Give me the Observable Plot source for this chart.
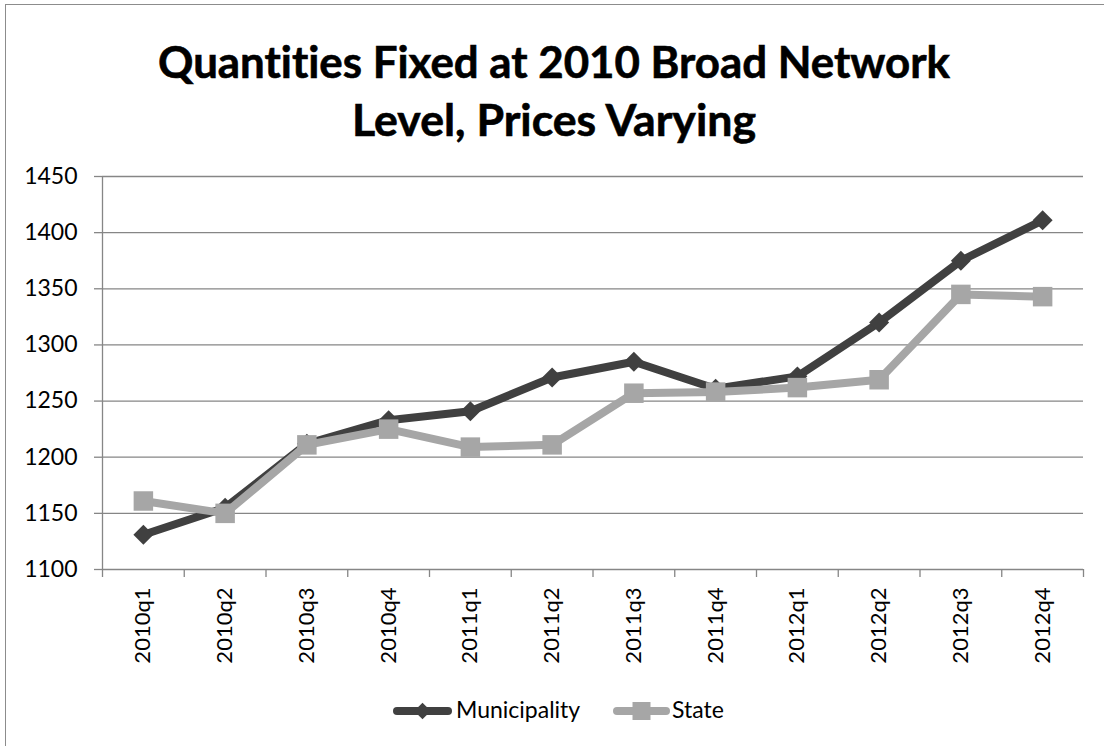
<!DOCTYPE html>
<html>
<head>
<meta charset="utf-8">
<script src="https://cdn.jsdelivr.net/npm/d3@7"></script>
<script src="https://cdn.jsdelivr.net/npm/@observablehq/plot@0.6"></script>
<style>
  body { margin: 0; background: #fff; }
  #frame { position: relative; width: 1104px; height: 746px; overflow: hidden; background: #fff; font-family: Lato, "Open Sans", sans-serif; font-variant-ligatures: none; font-feature-settings: "liga" 0, "clig" 0, "dlig" 0; }
  #border { position: absolute; left: 5px; top: 4px; width: 1300px; height: 1000px; border: 1.5px solid #8c8c8c; box-sizing: border-box; }
  #title { position: absolute; left: 0; top: 0; }
  #chart { position: absolute; left: 0; top: 160px; }
  #legend { position: absolute; left: 0; top: 690px; }
  text { font-variant-ligatures: none; font-feature-settings: "liga" 0, "clig" 0, "dlig" 0; }
</style>
</head>
<body>
<div id="frame">
  <div id="border"></div>
  <svg id="title" width="1104" height="160"></svg>
  <div id="chart"></div>
  <svg id="legend" width="1104" height="40"></svg>
</div>
<script>
const titleLines = ["Quantities Fixed at 2010 Broad Network", "Level, Prices Varying"];
const quarters = ["2010q1","2010q2","2010q3","2010q4","2011q1","2011q2","2011q3","2011q4","2012q1","2012q2","2012q3","2012q4"];
const municipality = [1131, 1155, 1212, 1233, 1241, 1271, 1285, 1261, 1272, 1320, 1375, 1411];
const state = [1161, 1150, 1211, 1225, 1209, 1211, 1257, 1258, 1262, 1269, 1345, 1343];
const seriesNames = ["Municipality", "State"];
const yTicks = [1100, 1150, 1200, 1250, 1300, 1350, 1400, 1450];

const dark = "#404040", light = "#a6a6a6", grid = "#868686";
const font = "Lato, 'Open Sans', sans-serif";

// Title
const t = d3.select("#title");
const titleSpecs = [{y: 78, len: 792}, {y: 136, len: 404}];
titleLines.forEach((line, i) => {
  t.append("text")
    .attr("x", 554).attr("y", titleSpecs[i].y)
    .attr("text-anchor", "middle")
    .attr("font-family", font).attr("font-weight", 700).attr("font-size", 43)
    .attr("textLength", titleSpecs[i].len).attr("lengthAdjust", "spacingAndGlyphs")
    .attr("style", "font-variant-ligatures: none; font-feature-settings: 'liga' 0, 'clig' 0;")
    .attr("stroke", "#000").attr("stroke-width", 0.6)
    .attr("fill", "#000")
    .text(line);
});

const rowsM = quarters.map((q, i) => ({i, v: municipality[i], s: seriesNames[0]}));
const rowsS = quarters.map((q, i) => ({i, v: state[i], s: seriesNames[1]}));

const boundaries = d3.range(quarters.length + 1).map(k => k - 0.5);

const chart = Plot.plot({
  width: 1104,
  height: 540,
  marginLeft: 102,
  marginRight: 21,
  marginTop: 16,
  marginBottom: 131,
  style: {fontFamily: font, background: "transparent", color: "#000"},
  x: {type: "linear", domain: [-0.5, quarters.length - 0.5]},
  y: {domain: [1100, 1450]},
  marks: [
    Plot.gridY(yTicks, {stroke: grid, strokeOpacity: 1, strokeWidth: 1.3}),
    Plot.ruleX([-0.5], {stroke: grid, strokeWidth: 1.3}),
    Plot.axisY({ticks: yTicks, tickSize: 8, tickPadding: 17, fontSize: 23, stroke: grid, strokeWidth: 1.3, fill: "#000", tickFormat: d => String(d), label: null}),
    Plot.axisX({ticks: boundaries, tickSize: 8, tickFormat: () => "", stroke: grid, strokeWidth: 1.3, label: null}),
    Plot.axisX({ticks: d3.range(quarters.length), tickSize: 0, tickPadding: 18, tickRotate: -90, fontSize: 22, fill: "#000", tickFormat: i => quarters[i], label: null}),
    Plot.lineY(rowsM, {x: "i", y: "v", stroke: dark, strokeWidth: 8, strokeLinejoin: "round"}),
    Plot.dot(rowsM, {x: "i", y: "v", symbol: "diamond2", r: 9, fill: dark, stroke: null}),
    Plot.lineY(rowsS, {x: "i", y: "v", stroke: light, strokeWidth: 8, strokeLinejoin: "round"}),
    Plot.dot(rowsS, {x: "i", y: "v", symbol: "square", r: 11, fill: light, stroke: null})
  ]
});
document.getElementById("chart").appendChild(chart);

// Legend
const lg = d3.select("#legend");
const legendItems = [
  {name: seriesNames[0], color: dark, x0: 393, x1: 452, tx: 456, sym: d3.symbolDiamond2, size: Math.PI * 7.5 * 7.5},
  {name: seriesNames[1], color: light, x0: 613, x1: 670, tx: 672, sym: d3.symbolSquare, size: 18 * 18}
];
legendItems.forEach(it => {
  lg.append("line").attr("x1", it.x0 + 4).attr("x2", it.x1 - 4).attr("y1", 21).attr("y2", 21)
    .attr("stroke", it.color).attr("stroke-width", 8).attr("stroke-linecap", "round");
  lg.append("path").attr("d", d3.symbol(it.sym, it.size)()).attr("transform", `translate(${(it.x0 + it.x1) / 2},21)`)
    .attr("fill", it.color);
  lg.append("text").attr("x", it.tx).attr("y", 28).attr("font-family", font).attr("font-size", 23)
    .attr("fill", "#000").text(it.name);
});
</script>
</body>
</html>
